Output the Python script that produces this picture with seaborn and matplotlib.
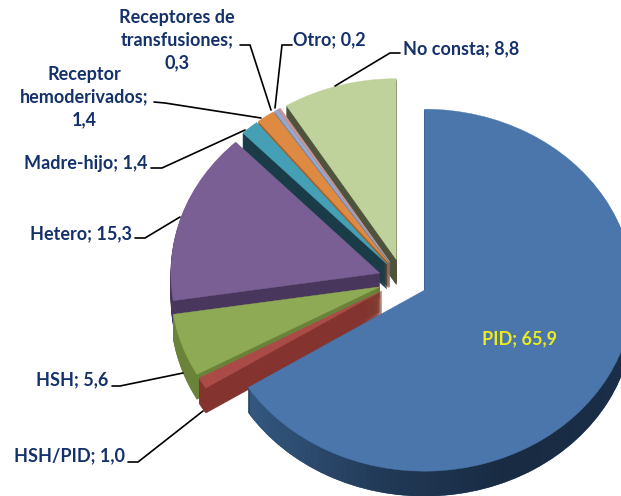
import numpy as np
import matplotlib
matplotlib.use("Agg")
import matplotlib.pyplot as plt
import seaborn as sns

categories = ["PID", "HSH/PID", "HSH", "Hetero", "Madre-hijo", "Receptor\nhemoderivados",
              "Receptores de\ntransfusiones", "Otro", "No consta"]
values = [65.9, 1.0, 5.6, 15.3, 1.4, 1.4, 0.3, 0.2, 8.8]
top_colors = ["#4a76ab", "#aa4b48", "#8faa54", "#795f94", "#459fb5", "#de8a43", "#93a9cf", "#d19392", "#c0d29c"]
side_colors = ["#2a4568", "#84332f", "#6b8338", "#49365c", "#1a3c48", "#a85f24", "#6a7d9c", "#9c6a69", "#4e533c"]

sns.set_theme(style="white")
plt.rcParams["font.family"] = ["Lato", "DejaVu Sans"]

W, H = 621, 496
CX, CY = 403, 280   # pie centre in pixels
RX, RY = 209, 181   # squashed radius in pixels
DEPTH = 25
NAVY = "#14316b"


def px(x, y):
    return (x - CX) / RX, (CY - y) / RY


def label(i):
    name = categories[i]
    sep = "\n" if "\n" in name else " "
    return f"{name};{sep}{values[i]:.1f}".replace(".", ",")


fig = plt.figure(figsize=(W / 100, H / 100), dpi=100)
ax = fig.add_axes([0, 0, 1, 1])

side_cmap = sns.blend_palette(["#33577f", "#223a58", "#192b42", "#1b2f49"], as_cmap=True)
shade = np.linspace(0, 1, 64).reshape(1, -1)
x0, y1 = px(250, 0)
x1, y0 = px(640, H)

# sides first, stacked from the bottom up, then the top face
for d in range(DEPTH, -1, -1):
    wedges, _ = ax.pie(values, startangle=90, counterclock=False, explode=[0.117] * len(values),
                       center=(0, -d / RY), colors=side_colors if d else top_colors,
                       wedgeprops={"linewidth": 0.3})
    for i, w in enumerate(wedges):
        w.set_zorder(2 * (len(values) - i) + (0 if d else 1))
        w.set_edgecolor(w.get_facecolor())
    if d:
        im = ax.imshow(shade, cmap=side_cmap, extent=(x0, x1, y0, y1), aspect="auto",
                       zorder=wedges[0].get_zorder() + 0.5)
        im.set_clip_path(wedges[0])

ax.set_aspect("auto")
ax.set_xlim(px(0, 0)[0], px(W, 0)[0])
ax.set_ylim(px(0, H)[1], px(0, 0)[1])
ax.axis("off")

# leader lines
leaders = {
    8: [(400, 53), (390, 53), (335, 86)],
    7: [(292, 45), (282, 45), (275, 108)],
    6: [(240, 45), (250, 45), (271, 110)],
    5: [(154, 102), (165, 103), (261, 118)],
    4: [(151, 168), (162, 168), (245, 130)],
    3: [(135, 238), (145, 238), (180, 217)],
    2: [(112, 386), (120, 386), (183, 373)],
    1: [(128, 462), (138, 462), (203, 411)],
}
for pts in leaders.values():
    xs, ys = zip(*[px(*p) for p in pts])
    ax.plot(xs, ys, color="black", lw=1.2, zorder=30, solid_joinstyle="miter")

# label anchors in pixels: x, y, horizontal alignment
anchors = {
    0: (519, 339, "center"),
    1: (125, 456, "right"),
    2: (108, 380, "right"),
    3: (132, 234, "right"),
    4: (147, 163, "right"),
    5: (84, 97, "center"),
    6: (177, 40, "center"),
    7: (293, 40, "left"),
    8: (403, 49, "left"),
}
for i, (x, y, ha) in anchors.items():
    tx, ty = px(x, y)
    ax.text(tx, ty, label(i), ha=ha, va="center", ma="center", fontsize=13, fontweight="bold",
            color="#ecec1e" if i == 0 else NAVY, linespacing=1.38, zorder=31)

fig.savefig("out.png", dpi=100)
